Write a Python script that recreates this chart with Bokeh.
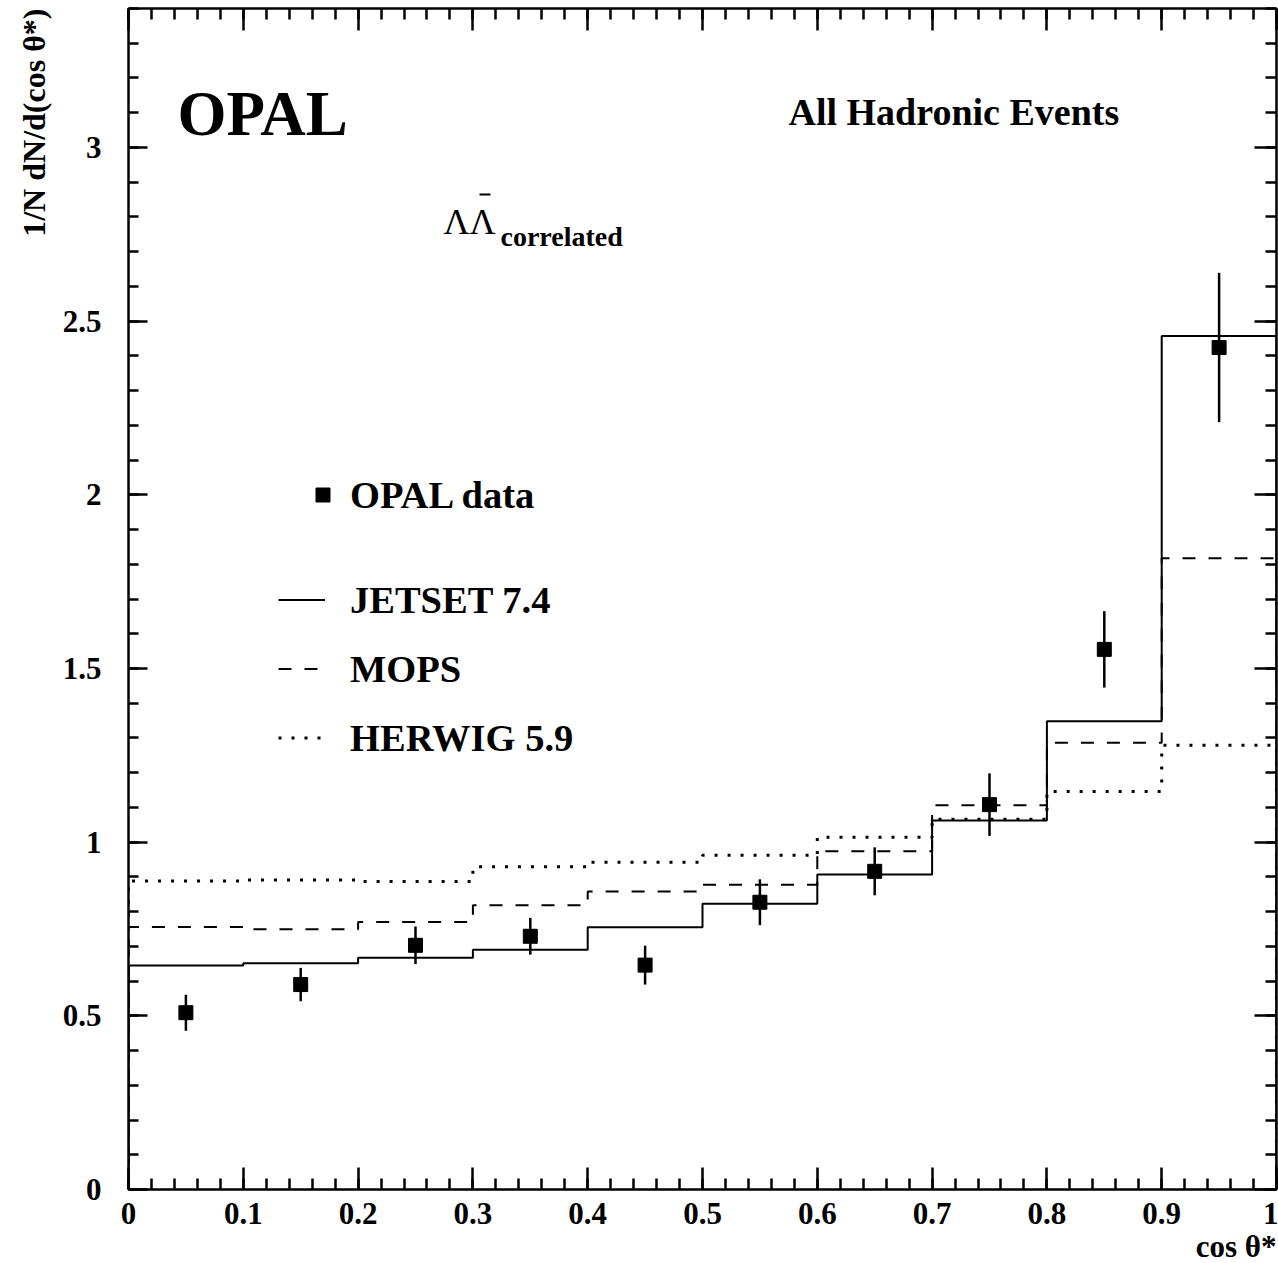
import numpy as np
from bokeh.plotting import figure
from bokeh.models import (Label, Legend, LegendItem, LinearAxis, SingleIntervalTicker,
                          CustomJSTickFormatter, Range1d, Title, BoxAnnotation)
from bokeh.embed import file_html
from bokeh.resources import INLINE

# ---------------- data ----------------
bin_edges = [0.0, 0.1, 0.2, 0.3, 0.4, 0.5, 0.6, 0.7, 0.8, 0.9, 1.0]
data_x = [0.05, 0.15, 0.25, 0.35, 0.45, 0.55, 0.65, 0.75, 0.85, 0.95]
data_y = [0.509, 0.590, 0.703, 0.729, 0.646, 0.827, 0.916, 1.108, 1.555, 2.424]
data_err = [0.052, 0.048, 0.054, 0.053, 0.056, 0.066, 0.069, 0.090, 0.110, 0.215]
jetset = [0.645, 0.651, 0.667, 0.690, 0.755, 0.823, 0.907, 1.062, 1.348, 2.457]
mops = [0.756, 0.749, 0.770, 0.818, 0.858, 0.877, 0.974, 1.106, 1.286, 1.817]
herwig = [0.888, 0.891, 0.887, 0.929, 0.942, 0.962, 1.014, 1.066, 1.146, 1.279]

FONT = "Liberation Serif"

def hist_outline(vals):
    xs = [bin_edges[0]]
    ys = [0.0]
    for i, v in enumerate(vals):
        xs += [bin_edges[i], bin_edges[i + 1]]
        ys += [v, v]
    xs.append(bin_edges[-1])
    ys.append(0.0)
    return xs, ys

p = figure(width=1278, height=1263, output_backend="svg", toolbar_location=None,
           x_range=Range1d(0, 1), y_range=Range1d(0, 3.4),
           min_border_left=128, min_border_right=2, min_border_top=8, min_border_bottom=73)
p.grid.visible = False
p.outline_line_color = None
p.background_fill_color = "white"
p.border_fill_color = "white"

fmt = CustomJSTickFormatter(code="var s = tick.toFixed(1); return s.endsWith('.0') ? s.slice(0, -2) : s;")

def style_axis(ax, major_in, minor_in, labels=True):
    ax.axis_line_color = "black"
    ax.axis_line_width = 2.5
    ax.major_tick_line_color = "black"
    ax.major_tick_line_width = 2.5
    ax.minor_tick_line_color = "black"
    ax.minor_tick_line_width = 2.5
    ax.major_tick_in = major_in
    ax.major_tick_out = 0
    ax.minor_tick_in = minor_in
    ax.minor_tick_out = 0
    if labels:
        ax.major_label_text_font = FONT
        ax.major_label_text_font_style = "bold"
        ax.major_label_text_font_size = "31px"
        ax.major_label_text_color = "black"
        ax.formatter = fmt
    else:
        ax.major_label_text_font_size = "0px"
        ax.major_label_standoff = 0

bx = p.xaxis[0]
bx.ticker = SingleIntervalTicker(interval=0.1, num_minor_ticks=5)
style_axis(bx, 22, 11)
bx.major_label_standoff = 13

ly = p.yaxis[0]
ly.ticker = SingleIntervalTicker(interval=0.5, num_minor_ticks=5)
style_axis(ly, 19, 10)
ly.major_label_standoff = 27

tx = LinearAxis(ticker=SingleIntervalTicker(interval=0.1, num_minor_ticks=5))
style_axis(tx, 22, 11, labels=False)
p.add_layout(tx, "above")

ry = LinearAxis(ticker=SingleIntervalTicker(interval=0.5, num_minor_ticks=5))
style_axis(ry, 22, 11, labels=False)
p.add_layout(ry, "right")

# axis titles
p.add_layout(Title(text="1/N dN/d(cos \u03b8*)", align="right", text_font=FONT,
                   text_font_style="bold", text_font_size="32px", text_color="black",
                   standoff=16), "left")
p.add_layout(Title(text="cos \u03b8*", align="right", text_font=FONT,
                   text_font_style="bold", text_font_size="31px", text_color="black",
                   standoff=0), "below")

# ---------------- histograms ----------------
xs, ys = hist_outline(jetset)
r_jet = p.line(xs, ys, line_color="black", line_width=2)
xs, ys = hist_outline(mops)
r_mops = p.line(xs, ys, line_color="black", line_width=2, line_dash="13 13")
xs, ys = hist_outline(herwig)
r_her = p.line(xs, ys, line_color="black", line_width=3, line_dash="3 10")

# ---------------- data points ----------------
lo = [y - e for y, e in zip(data_y, data_err)]
hi = [y + e for y, e in zip(data_y, data_err)]
p.segment(x0=data_x, y0=lo, x1=data_x, y1=hi, line_color="black", line_width=2.5)
r_data = p.scatter(data_x, data_y, marker="square", size=14, fill_color="black", line_color="black")

# ---------------- legends ----------------
def make_legend(items, loc, gw, standoff):
    lg = Legend(items=items, location=loc, glyph_width=gw, glyph_height=69,
                label_height=69, spacing=0, padding=0, margin=0, label_standoff=standoff,
                border_line_color=None, background_fill_alpha=0,
                label_text_font=FONT, label_text_font_style="bold",
                label_text_font_size="38.5px", label_text_color="black")
    p.add_layout(lg)

make_legend([LegendItem(label="OPAL data", renderers=[r_data])], (177, 660), 35, 10)
make_legend([LegendItem(label="JETSET 7.4", renderers=[r_jet]),
             LegendItem(label="MOPS", renderers=[r_mops]),
             LegendItem(label="HERWIG 5.9", renderers=[r_her])], (150, 417), 47, 25)

# ---------------- texts ----------------
def add_label(text, x, y, size, style="bold", align="left", baseline="alphabetic"):
    p.add_layout(Label(text=text, x=x, y=y, x_units="screen", y_units="screen",
                       text_font=FONT, text_font_style=style, text_font_size=size,
                       text_color="black", text_align=align, text_baseline=baseline))

add_label("OPAL", 49, 1076, "63px")
add_label("All Hadronic Events", 660, 1078, "38px")
add_label("\u039b\u039b", 315, 968, "36px", style="normal")
add_label("correlated", 372, 953, "28px")
# overbar of the anti-Lambda
p.add_layout(BoxAnnotation(left=351, right=362, top=996, bottom=994,
                           left_units="screen", right_units="screen",
                           top_units="screen", bottom_units="screen",
                           fill_color="black", fill_alpha=1, line_color=None))

open("out.html", "w").write(file_html(p, INLINE))
